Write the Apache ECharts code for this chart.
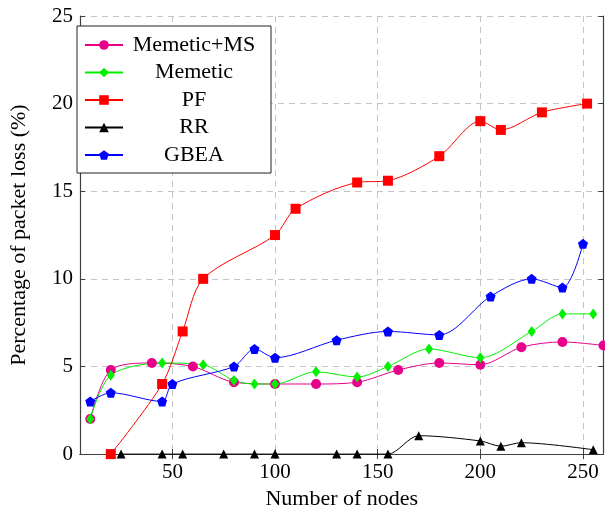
<!DOCTYPE html>
<html>
<head>
<meta charset="utf-8">
<script src="https://cdn.jsdelivr.net/npm/echarts@6/dist/echarts.min.js"></script>
<style>
  html, body { margin: 0; padding: 0; background: #fff; }
  .main { width: 605px; height: 515px; }
</style>
</head>
<body>
<div class="main" id="main"></div>
<script>
var names = ['Memetic+MS', 'Memetic', 'PF', 'RR', 'GBEA'];
var xTicks = [50, 100, 150, 200, 250];

var msX = [10, 20, 40, 60, 80, 100, 120, 140, 160, 180, 200, 220, 240, 260];
var msY = [2.0, 4.8, 5.2, 5.0, 4.1, 4.0, 4.0, 4.1, 4.8, 5.2, 5.1, 6.1, 6.4, 6.2];

var memX = [10, 20, 45, 65, 80, 90, 100, 120, 140, 155, 175, 200, 225, 240, 255];
var memY = [2.0, 4.5, 5.2, 5.1, 4.2, 4.0, 4.0, 4.7, 4.4, 5.0, 6.0, 5.5, 7.0, 8.0, 8.0];

var pfX = [20, 45, 55, 65, 100, 110, 140, 155, 180, 200, 210, 230, 252];
var pfY = [0, 4.0, 7.0, 10.0, 12.5, 14.0, 15.5, 15.6, 17.0, 19.0, 18.5, 19.5, 20.0];

var rrX = [25, 45, 55, 75, 90, 100, 130, 140, 155, 170, 200, 210, 220, 255];
var rrY = [0, 0, 0, 0, 0, 0, 0, 0, 0, 1.05, 0.75, 0.45, 0.65, 0.25];

var gbX = [10, 20, 45, 50, 80, 90, 100, 130, 155, 180, 205, 225, 240, 250];
var gbY = [3.0, 3.5, 3.0, 4.0, 5.0, 6.0, 5.5, 6.5, 7.0, 6.8, 9.0, 10.0, 9.5, 12.0];

function pairs(xs, ys) {
  var out = [];
  for (var i = 0; i < xs.length; i++) out.push([xs[i], ys[i]]);
  return out;
}

var pentagon = 'path://M0,-1 L0.951,-0.309 L0.588,0.809 L-0.588,0.809 L-0.951,-0.309 Z';
var font = '"Liberation Serif", "DejaVu Serif", serif';
var frame = '#404040';

function mkSeries(name, xs, ys, color, symbol, size) {
  return {
    name: name,
    type: 'line',
    xAxisIndex: 0,
    yAxisIndex: 0,
    data: pairs(xs, ys),
    smooth: 0.3,
    clip: false,
    symbol: symbol,
    symbolSize: size,
    showAllSymbol: true,
    lineStyle: { color: color, width: 1 },
    itemStyle: { color: color },
    emphasis: { disabled: true }
  };
}

var myChart = echarts.init(document.getElementById('main'));
var option = {
  animation: false,
  textStyle: { fontFamily: font },
  grid: { left: 77, right: 1.5, top: 16, bottom: 56 },
  legend: {
    data: names,
    orient: 'vertical',
    left: 77,
    top: 26,
    padding: [8, 11, 7, 7],
    itemGap: 5.5,
    itemWidth: 38,
    itemHeight: 12,
    borderColor: '#222',
    borderWidth: 1,
    backgroundColor: '#fff',
    formatter: function (n) { return '{a|' + n + '}'; },
    textStyle: {
      fontFamily: font,
      rich: { a: { width: 132, align: 'center', fontSize: 22, lineHeight: 20, color: '#000', fontFamily: font } }
    }
  },
  xAxis: [{
    type: 'value',
    min: 5,
    max: 260,
    position: 'bottom',
    name: 'Number of nodes',
    nameLocation: 'middle',
    nameGap: 31,
    nameTextStyle: { fontSize: 22, color: '#000', fontFamily: font },
    axisLine: { show: true, lineStyle: { color: frame, width: 1.2 } },
    axisTick: { show: true, inside: true, length: 5, customValues: xTicks, lineStyle: { color: frame } },
    axisLabel: { customValues: xTicks, fontSize: 21, color: '#000', margin: 8, fontFamily: font },
    splitLine: { show: true, lineStyle: { color: '#c4c4c4', type: [6, 5], width: 1 } }
  }, {
    type: 'value',
    min: 5,
    max: 260,
    position: 'top',
    axisLine: { show: true, lineStyle: { color: frame, width: 1.2 } },
    axisTick: { show: true, inside: true, length: 5, customValues: xTicks, lineStyle: { color: frame } },
    axisLabel: { show: false },
    splitLine: { show: false }
  }],
  yAxis: [{
    type: 'value',
    min: 0,
    max: 25,
    interval: 5,
    position: 'left',
    name: 'Percentage of packet loss (%)',
    nameLocation: 'middle',
    nameGap: 50,
    nameTextStyle: { fontSize: 22, color: '#000', fontFamily: font },
    axisLine: { show: true, lineStyle: { color: frame, width: 1.2 } },
    axisTick: { show: true, inside: true, length: 5, lineStyle: { color: frame } },
    axisLabel: { fontSize: 21, color: '#000', margin: 7, fontFamily: font },
    splitLine: { show: true, lineStyle: { color: '#c4c4c4', type: [6, 5], width: 1 } }
  }, {
    type: 'value',
    min: 0,
    max: 25,
    interval: 5,
    position: 'right',
    axisLine: { show: true, lineStyle: { color: frame, width: 1.2 } },
    axisTick: { show: true, inside: true, length: 5, lineStyle: { color: frame } },
    axisLabel: { show: false },
    splitLine: { show: false }
  }],
  series: [
    mkSeries('Memetic+MS', msX, msY, '#e6008a', 'circle', 10),
    mkSeries('Memetic', memX, memY, '#00f000', 'diamond', [8, 11]),
    mkSeries('PF', pfX, pfY, '#ff0000', 'rect', 10),
    mkSeries('RR', rrX, rrY, '#000000', 'triangle', 9),
    mkSeries('GBEA', gbX, gbY, '#0000ff', pentagon, 10)
  ]
};
myChart.setOption(option);
</script>
</body>
</html>
